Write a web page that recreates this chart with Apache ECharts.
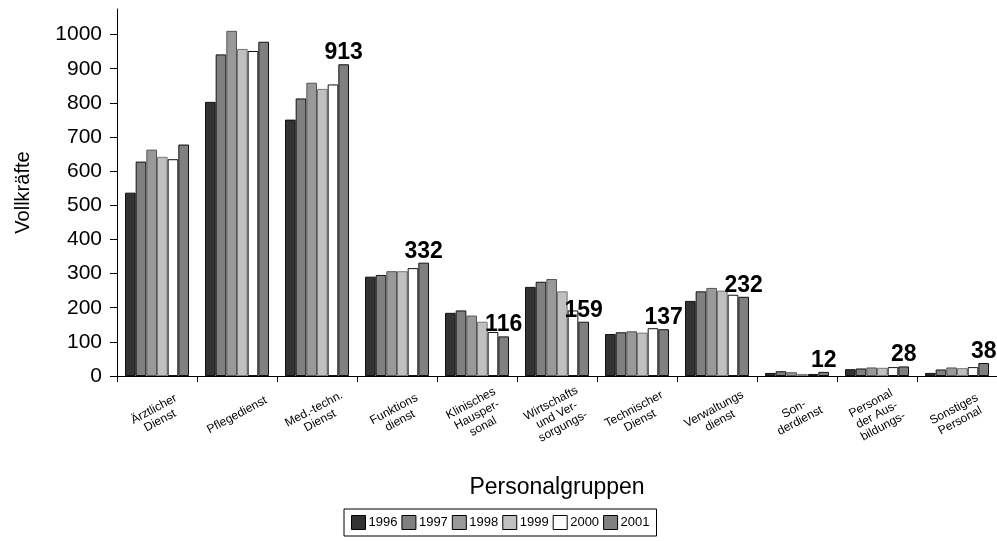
<!DOCTYPE html>
<html><head><meta charset="utf-8">
<script src="https://cdn.jsdelivr.net/npm/echarts@6/dist/echarts.min.js"></script>
<style>html,body{margin:0;padding:0;background:#fff}#c{width:997px;height:541px}</style>
</head><body><div id="c"></div>
<script>
var categories = ['Ärztlicher\nDienst','Pflegedienst','Med.-techn.\nDienst','Funktions\ndienst','Klinisches\nHausper-\nsonal','Wirtschafts\nund Ver-\nsorgungs-','Technischer\nDienst','Verwaltungs\ndienst','Son-\nderdienst','Personal\nder Aus-\nbildungs-','Sonstiges\nPersonal'];
var years = ['1996','1997','1998','1999','2000','2001'];
var v1996 = [537, 803, 751, 291, 185, 261, 123, 220, 9, 20, 9];
var v1997 = [628, 942, 813, 296, 192, 276, 128, 248, 14, 22, 19];
var v1998 = [663, 1011, 859, 307, 177, 284, 131, 258, 11, 25, 25];
var v1999 = [642, 958, 841, 307, 159, 248, 127, 250, 6, 24, 23];
var v2000 = [635, 952, 854, 316, 129, 192, 140, 238, 6, 26, 26];
var v2001 = [678, 979, 913, 332, 116, 159, 137, 232, 12, 28, 38];
var labeled2001 = [false, false, true, true, true, true, true, true, true, true, true];
var yTicks = [0,100,200,300,400,500,600,700,800,900,1000];
var colors = ['#333333','#808080','#999999','#c0c0c0','#ffffff','#808080'];
var borders = ['#111','#111','#555','#777','#111','#111'];
var values = [v1996, v1997, v1998, v1999, v2000, v2001];
var FONT = 'Liberation Sans';

var series = years.map(function(y, i){
  var data = values[i];
  if (i === 5) {
    data = values[i].map(function(v, k){ return {value: v, label: {show: labeled2001[k]}}; });
  }
  var s = {
    name: y, type: 'bar', data: data,
    barGap: '0%', barCategoryGap: '20%',
    itemStyle: {color: colors[i], borderColor: borders[i], borderWidth: 1},
    emphasis: {disabled: true}
  };
  if (i === 5) {
    s.label = {show: true, position: 'top', distance: 0, fontFamily: FONT, fontSize: 23, fontWeight: 'bold', color: '#000'};
  }
  return s;
});

var chart = echarts.init(document.getElementById('c'), null, {renderer: 'canvas'});
chart.setOption({
  animation: false,
  backgroundColor: '#fff',
  textStyle: {fontFamily: FONT},
  grid: {left: 117, right: 0, top: 9, bottom: 165, containLabel: false},
  legend: {
    data: years, left: 344, top: 509,
    borderColor: '#000', borderWidth: 1, padding: [6, 7, 6, 7],
    itemWidth: 14, itemHeight: 14, itemGap: 4,
    icon: 'rect',
    itemStyle: {borderColor: '#000', borderWidth: 1},
    textStyle: {fontFamily: FONT, fontSize: 13, color: '#000', padding: [0,0,0,-2]}
  },
  xAxis: {
    type: 'category', data: categories,
    name: 'Personalgruppen', nameLocation: 'middle', nameGap: 100,
    nameTextStyle: {fontFamily: FONT, fontSize: 23, color: '#000'},
    axisLine: {lineStyle: {color: '#000', width: 1}},
    axisTick: {show: true, alignWithLabel: false, length: 6, lineStyle: {color: '#000'}},
    axisLabel: {interval: 0, rotate: 28, margin: 39, align: 'center', verticalAlign: 'middle',
      fontFamily: FONT, fontSize: 12, color: '#000', lineHeight: 13}
  },
  yAxis: {
    type: 'value', min: 0, max: 1075, interval: 100,
    name: 'Vollkräfte', nameLocation: 'middle', nameGap: 84,
    nameTextStyle: {fontFamily: FONT, fontSize: 20, color: '#000'},
    axisLine: {show: true, lineStyle: {color: '#000', width: 1}},
    axisTick: {show: true, length: 7, lineStyle: {color: '#000'}, customValues: yTicks},
    axisLabel: {margin: 15, fontFamily: FONT, fontSize: 21, color: '#000', customValues: yTicks,
      formatter: function(v){ return String(v); }},
    splitLine: {show: false}
  },
  series: series
});
</script></body></html>
